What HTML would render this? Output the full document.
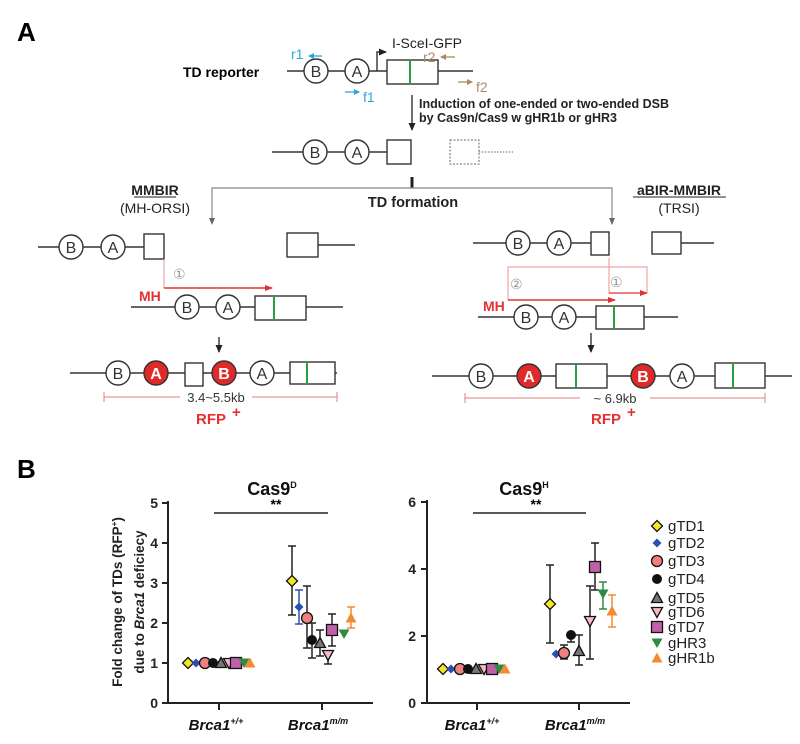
<!DOCTYPE html><html><head><meta charset="utf-8"><style>body{margin:0;background:#fff}svg{display:block}text{font-family:"Liberation Sans",sans-serif}</style></head><body>
<svg width="800" height="744" viewBox="0 0 800 744" xmlns="http://www.w3.org/2000/svg">
<defs>
<marker id="ah" markerWidth="8" markerHeight="8" refX="7" refY="4" orient="auto" markerUnits="userSpaceOnUse"><path d="M0,0.5 L8,4 L0,7.5z" fill="#222"/></marker>
<marker id="ahr" markerWidth="8" markerHeight="8" refX="7" refY="4" orient="auto" markerUnits="userSpaceOnUse"><path d="M0,1 L8,4 L0,7z" fill="#e53030"/></marker>
<marker id="ahb" markerWidth="6" markerHeight="6" refX="5" refY="3" orient="auto" markerUnits="userSpaceOnUse"><path d="M0,0 L6,3 L0,6z" fill="#29a8e0"/></marker>
<marker id="ahn" markerWidth="6" markerHeight="6" refX="5" refY="3" orient="auto" markerUnits="userSpaceOnUse"><path d="M0,0 L6,3 L0,6z" fill="#b08a60"/></marker>
<g id="dia"><path d="M0,-5.5 L5.5,0 L0,5.5 L-5.5,0z" fill="#f2e62a" stroke="#111" stroke-width="1.3"/></g>
<g id="bdia"><path d="M0,-4.5 L4.5,0 L0,4.5 L-4.5,0z" fill="#2b4fb0"/></g>
<g id="cir"><circle r="5.5" fill="#f07f7f" stroke="#111" stroke-width="1.3"/></g>
<g id="blk"><circle r="5" fill="#111"/></g>
<g id="tri"><path d="M0,-5.5 L5.5,4.5 L-5.5,4.5z" fill="#777" stroke="#111" stroke-width="1.3"/></g>
<g id="tdn"><path d="M0,5.5 L5.5,-4.5 L-5.5,-4.5z" fill="#f7b8c8" stroke="#111" stroke-width="1.3"/></g>
<g id="sq"><rect x="-5.5" y="-5.5" width="11" height="11" fill="#c060a8" stroke="#111" stroke-width="1.3"/></g>
<g id="gtd"><path d="M0,5 L5.5,-4.5 L-5.5,-4.5z" fill="#2e8b40"/></g>
<g id="otr"><path d="M0,-5.5 L5.5,4.5 L-5.5,4.5z" fill="#f58a30"/></g>
</defs>
<text x="17" y="41" font-size="26" font-weight="bold">A</text>
<text x="17" y="478" font-size="26" font-weight="bold">B</text>
<text x="183" y="77" font-size="14" font-weight="bold">TD reporter</text>
<g stroke="#333" stroke-width="1.4" fill="#fff">
<line x1="287" y1="71" x2="473" y2="71"/>
<circle cx="316" cy="71" r="12"/><circle cx="357" cy="71" r="12"/>
<rect x="387" y="60" width="51" height="24"/>
<polyline points="377,71 377,52 386,52" fill="none" marker-end="url(#ah)"/>
</g>
<line x1="410" y1="60" x2="410" y2="84" stroke="#2aa040" stroke-width="2"/>
<text x="316" y="77" font-size="16" text-anchor="middle" fill="#333">B</text><text x="357" y="77" font-size="16" text-anchor="middle" fill="#333">A</text>
<text x="392" y="48" font-size="14" fill="#222">I-SceI-GFP</text>
<text x="291" y="59" font-size="14" fill="#29a8e0">r1</text><line x1="322" y1="56" x2="309" y2="56" stroke="#29a8e0" stroke-width="1.3" marker-end="url(#ahb)"/>
<line x1="345" y1="92" x2="359" y2="92" stroke="#29a8e0" stroke-width="1.3" marker-end="url(#ahb)"/><text x="363" y="102" font-size="14" fill="#29a8e0">f1</text>
<text x="423" y="62" font-size="14" fill="#b08a60">r2</text><line x1="455" y1="57" x2="441" y2="57" stroke="#b08a60" stroke-width="1.3" marker-end="url(#ahn)"/>
<line x1="458" y1="82" x2="472" y2="82" stroke="#b08a60" stroke-width="1.3" marker-end="url(#ahn)"/><text x="476" y="92" font-size="14" fill="#b08a60">f2</text>
<line x1="412" y1="95" x2="412" y2="130" stroke="#222" stroke-width="1.3" marker-end="url(#ah)"/>
<text x="419" y="108" font-size="12.5" font-weight="bold" fill="#222">Induction of one-ended or two-ended DSB</text>
<text x="419" y="122" font-size="12.5" font-weight="bold" fill="#222">by Cas9n/Cas9 w gHR1b or gHR3</text>
<g stroke="#333" stroke-width="1.4" fill="#fff">
<line x1="272" y1="152" x2="387" y2="152"/>
<circle cx="315" cy="152" r="12"/><circle cx="357" cy="152" r="12"/>
<rect x="387" y="140" width="24" height="24"/>
</g>
<rect x="450" y="140" width="29" height="24" fill="none" stroke="#666" stroke-width="1" stroke-dasharray="2,1.5"/>
<line x1="479" y1="152" x2="513" y2="152" stroke="#666" stroke-width="1" stroke-dasharray="1.5,1.5"/>
<text x="315" y="158" font-size="16" text-anchor="middle" fill="#333">B</text><text x="357" y="158" font-size="16" text-anchor="middle" fill="#333">A</text>
<line x1="412" y1="177" x2="412" y2="188" stroke="#222" stroke-width="3"/>
<polyline points="212,222 212,188 612,188 612,224" fill="none" stroke="#888" stroke-width="1.2"/>
<path d="M209,218 L212,225 L215,218z M609,218 L612,225 L615,218z" fill="#666"/>
<text x="413" y="207" font-size="14.5" font-weight="bold" text-anchor="middle" fill="#222">TD formation</text>
<text x="155" y="195" font-size="14" font-weight="bold" text-anchor="middle" fill="#222">MMBIR</text>
<line x1="134" y1="197" x2="176" y2="197" stroke="#222" stroke-width="1"/>
<text x="155" y="213" font-size="14" text-anchor="middle" fill="#222">(MH-ORSI)</text>
<text x="679" y="195" font-size="14" font-weight="bold" text-anchor="middle" fill="#222">aBIR-MMBIR</text>
<line x1="633" y1="197" x2="726" y2="197" stroke="#222" stroke-width="1"/>
<text x="679" y="213" font-size="14" text-anchor="middle" fill="#222">(TRSI)</text>
<g stroke="#333" stroke-width="1.4" fill="#fff">
<line x1="38" y1="247" x2="144" y2="247"/>
<circle cx="71" cy="247" r="12"/><circle cx="113" cy="247" r="12"/>
<rect x="144" y="234" width="20" height="25"/>
<rect x="287" y="233" width="31" height="24"/><line x1="318" y1="245" x2="355" y2="245"/>
<line x1="131" y1="307" x2="343" y2="307"/>
<circle cx="187" cy="307" r="12"/><circle cx="228" cy="307" r="12"/>
<rect x="255" y="296" width="51" height="24"/>
<line x1="70" y1="373" x2="337" y2="373"/>
<circle cx="118" cy="373" r="12"/><circle cx="156" cy="373" r="12" fill="#e02a2a"/>
<rect x="185" y="363" width="18" height="23"/>
<circle cx="224" cy="373" r="12" fill="#e02a2a"/><circle cx="262" cy="373" r="12"/>
<rect x="290" y="362" width="45" height="22"/>
</g>
<line x1="274" y1="296" x2="274" y2="320" stroke="#2aa040" stroke-width="2"/>
<line x1="307" y1="362" x2="307" y2="384" stroke="#2aa040" stroke-width="2"/>
<g font-size="16" text-anchor="middle" fill="#333">
<text x="71" y="253">B</text><text x="113" y="253">A</text><text x="187" y="313">B</text><text x="228" y="313">A</text>
<text x="118" y="379">B</text><text x="156" y="379" fill="#fff" font-weight="bold">A</text><text x="224" y="379" fill="#fff" font-weight="bold">B</text><text x="262" y="379">A</text>
</g>
<polyline points="164,259 164,288 271,288" fill="none" stroke="#f09090" stroke-width="1"/>
<line x1="164" y1="288" x2="272" y2="288" stroke="#e53030" stroke-width="1.4" marker-end="url(#ahr)"/>
<text x="173" y="279" font-size="14" fill="#999">①</text>
<text x="139" y="301" font-size="14" font-weight="bold" fill="#e53030">MH</text>
<line x1="219" y1="337" x2="219" y2="352" stroke="#222" stroke-width="1.3" marker-end="url(#ah)"/>
<g stroke="#e08080" stroke-width="1"><line x1="104" y1="397" x2="180" y2="397"/><line x1="252" y1="397" x2="337" y2="397"/><line x1="104" y1="392" x2="104" y2="402"/><line x1="337" y1="392" x2="337" y2="402"/></g>
<text x="216" y="402" font-size="13" text-anchor="middle" fill="#333">3.4~5.5kb</text>
<text x="211" y="424" font-size="15" font-weight="bold" text-anchor="middle" fill="#e53030">RFP</text><text x="232" y="417" font-size="15" font-weight="bold" fill="#e53030">+</text>
<g stroke="#333" stroke-width="1.4" fill="#fff">
<line x1="473" y1="243" x2="591" y2="243"/>
<circle cx="518" cy="243" r="12"/><circle cx="559" cy="243" r="12"/>
<rect x="591" y="232" width="18" height="23"/>
<rect x="652" y="232" width="29" height="22"/><line x1="681" y1="243" x2="714" y2="243"/>
<line x1="478" y1="317" x2="678" y2="317"/>
<circle cx="526" cy="317" r="12"/><circle cx="564" cy="317" r="12"/>
<rect x="596" y="306" width="48" height="23"/>
<line x1="432" y1="376" x2="792" y2="376"/>
<circle cx="481" cy="376" r="12"/><circle cx="529" cy="376" r="12" fill="#e02a2a"/>
<rect x="556" y="364" width="51" height="24"/>
<circle cx="643" cy="376" r="12" fill="#e02a2a"/><circle cx="682" cy="376" r="12"/>
<rect x="715" y="363" width="50" height="25"/>
</g>
<line x1="614" y1="306" x2="614" y2="329" stroke="#2aa040" stroke-width="2"/>
<line x1="576" y1="364" x2="576" y2="388" stroke="#2aa040" stroke-width="2"/>
<line x1="733" y1="363" x2="733" y2="388" stroke="#2aa040" stroke-width="2"/>
<g font-size="16" text-anchor="middle" fill="#333">
<text x="518" y="249">B</text><text x="559" y="249">A</text><text x="526" y="323">B</text><text x="564" y="323">A</text>
<text x="481" y="382">B</text><text x="529" y="382" fill="#fff" font-weight="bold">A</text><text x="643" y="382" fill="#fff" font-weight="bold">B</text><text x="682" y="382">A</text>
</g>
<polyline points="508,300 508,267 647,267 647,293" fill="none" stroke="#f09090" stroke-width="1"/>
<polyline points="609,258 609,293 645,293" fill="none" stroke="#f09090" stroke-width="1"/>
<line x1="609" y1="293" x2="647" y2="293" stroke="#e53030" stroke-width="1.3" marker-end="url(#ahr)"/>
<line x1="508" y1="300" x2="615" y2="300" stroke="#e53030" stroke-width="1.4" marker-end="url(#ahr)"/>
<text x="510" y="289" font-size="14" fill="#999">②</text><text x="610" y="287" font-size="14" fill="#999">①</text>
<text x="483" y="311" font-size="14" font-weight="bold" fill="#e53030">MH</text>
<line x1="591" y1="333" x2="591" y2="352" stroke="#222" stroke-width="1.3" marker-end="url(#ah)"/>
<g stroke="#e08080" stroke-width="1"><line x1="465" y1="398" x2="580" y2="398"/><line x1="650" y1="398" x2="765" y2="398"/><line x1="465" y1="393" x2="465" y2="403"/><line x1="765" y1="393" x2="765" y2="403"/></g>
<text x="615" y="403" font-size="13" text-anchor="middle" fill="#333">~ 6.9kb</text>
<text x="606" y="424" font-size="15" font-weight="bold" text-anchor="middle" fill="#e53030">RFP</text><text x="627" y="417" font-size="15" font-weight="bold" fill="#e53030">+</text>
<text x="272" y="495" font-size="18" font-weight="bold" text-anchor="middle" fill="#111">Cas9<tspan font-size="9" dy="-7">D</tspan></text>
<text x="524" y="495" font-size="18" font-weight="bold" text-anchor="middle" fill="#111">Cas9<tspan font-size="9" dy="-7">H</tspan></text>
<g transform="translate(122,602) rotate(-90)"><text x="0" y="0" font-size="13.5" font-weight="bold" text-anchor="middle" fill="#222">Fold change of TDs (RFP<tspan font-size="8" dy="-5">+</tspan><tspan dy="5">)</tspan></text></g>
<g transform="translate(144,602) rotate(-90)"><text x="0" y="0" font-size="13.5" font-weight="bold" text-anchor="middle" fill="#222">due to <tspan font-style="italic">Brca1</tspan> deficiecy</text></g>
<g stroke="#222" stroke-width="2" fill="none">
<polyline points="168,501 168,703 373,703"/>
<line x1="162" y1="503" x2="168" y2="503"/><line x1="162" y1="543" x2="168" y2="543"/><line x1="162" y1="583" x2="168" y2="583"/><line x1="162" y1="623" x2="168" y2="623"/><line x1="162" y1="663" x2="168" y2="663"/><line x1="162" y1="703" x2="168" y2="703"/>
<line x1="219" y1="703" x2="219" y2="710"/><line x1="322" y1="703" x2="322" y2="710"/>
<line x1="214" y1="513" x2="328" y2="513" stroke-width="1.5"/>
</g>
<g font-size="14" font-weight="bold" text-anchor="end" fill="#222"><text x="158" y="508">5</text><text x="158" y="548">4</text><text x="158" y="588">3</text><text x="158" y="628">2</text><text x="158" y="668">1</text><text x="158" y="708">0</text></g>
<text x="276" y="509" font-size="14" font-weight="bold" text-anchor="middle">**</text>
<g font-size="15" font-weight="bold" font-style="italic" text-anchor="middle" fill="#111">
<text x="216" y="730">Brca1<tspan font-size="9" dy="-6">+/+</tspan></text>
<text x="318" y="730">Brca1<tspan font-size="9" dy="-6">m/m</tspan></text>
<text x="472" y="730">Brca1<tspan font-size="9" dy="-6">+/+</tspan></text>
<text x="575" y="730">Brca1<tspan font-size="9" dy="-6">m/m</tspan></text>
</g>
<g stroke="#222" stroke-width="1.5" fill="none">
<path d="M292,615 V546 M288,615h8 M288,546h8"/>
<path d="M307,648 V586 M303,648h8 M303,586h8"/>
<path d="M312,658 V623 M308,658h8 M308,623h8"/>
<path d="M320,656 V630 M316,656h8 M316,630h8"/>
<path d="M328,664 V652 M324,664h8 M324,652h8"/>
<path d="M332,646 V614 M328,646h8 M328,614h8"/>
</g>
<path d="M299,624 V590 M295,624h8 M295,590h8" stroke="#3050b0" stroke-width="1.5"/>
<path d="M351,628 V607 M347,628h8 M347,607h8" stroke="#f58a30" stroke-width="1.5"/>
<use href="#dia" x="292" y="581"/><use href="#bdia" x="299" y="607"/><use href="#cir" x="307" y="618"/><use href="#blk" x="312" y="640"/><use href="#tri" x="320" y="643"/><use href="#tdn" x="328" y="655"/><use href="#sq" x="332" y="630"/><use href="#gtd" x="344" y="634"/><use href="#otr" x="351" y="618"/>
<use href="#dia" x="188" y="663"/><use href="#bdia" x="196" y="663"/><use href="#cir" x="205" y="663"/><use href="#blk" x="213" y="663"/><use href="#tri" x="221" y="663"/><use href="#tdn" x="229" y="663"/><use href="#sq" x="236" y="663"/><use href="#gtd" x="244" y="663"/><use href="#otr" x="250" y="663"/>
<g stroke="#222" stroke-width="2" fill="none">
<polyline points="427,500 427,703 630,703"/>
<line x1="421" y1="502" x2="427" y2="502"/><line x1="421" y1="569" x2="427" y2="569"/><line x1="421" y1="636" x2="427" y2="636"/><line x1="421" y1="703" x2="427" y2="703"/>
<line x1="477" y1="703" x2="477" y2="710"/><line x1="579" y1="703" x2="579" y2="710"/>
<line x1="473" y1="513" x2="586" y2="513" stroke-width="1.5"/>
</g>
<g font-size="14" font-weight="bold" text-anchor="end" fill="#222"><text x="416" y="507">6</text><text x="416" y="574">4</text><text x="416" y="641">2</text><text x="416" y="708">0</text></g>
<text x="536" y="509" font-size="14" font-weight="bold" text-anchor="middle">**</text>
<g stroke="#222" stroke-width="1.5" fill="none">
<path d="M550,643 V565 M546,643h8 M546,565h8"/>
<path d="M564,659 V645 M560,659h8 M560,645h8"/>
<path d="M571,642 V635 M567,642h8 M567,635h8"/>
<path d="M579,665 V635 M575,665h8 M575,635h8"/>
<path d="M590,659 V586 M586,659h8 M586,586h8"/>
<path d="M595,590 V543 M591,590h8 M591,543h8"/>
</g>
<path d="M603,609 V582 M599,609h8 M599,582h8" stroke="#2e8b40" stroke-width="1.5"/>
<path d="M612,627 V595 M608,627h8 M608,595h8" stroke="#f58a30" stroke-width="1.5"/>
<use href="#dia" x="550" y="604"/><use href="#bdia" x="556" y="654"/><use href="#cir" x="564" y="653"/><use href="#blk" x="571" y="635"/><use href="#tri" x="579" y="651"/><use href="#tdn" x="590" y="621"/><use href="#sq" x="595" y="567"/><use href="#gtd" x="603" y="594"/><use href="#otr" x="612" y="611"/>
<use href="#dia" x="443" y="669"/><use href="#bdia" x="451" y="669"/><use href="#cir" x="460" y="669"/><use href="#blk" x="468" y="669"/><use href="#tri" x="476" y="669"/><use href="#tdn" x="484" y="669"/><use href="#sq" x="492" y="669"/><use href="#gtd" x="499" y="669"/><use href="#otr" x="505" y="669"/>
<use href="#dia" x="657" y="526"/><use href="#bdia" x="657" y="543"/><use href="#cir" x="657" y="561"/><use href="#blk" x="657" y="579"/><use href="#tri" x="657" y="598"/><use href="#tdn" x="657" y="612"/><use href="#sq" x="657" y="627"/><use href="#gtd" x="657" y="643"/><use href="#otr" x="657" y="658"/>
<g font-size="15" fill="#222">
<text x="668" y="531">gTD1</text><text x="668" y="548">gTD2</text><text x="668" y="566">gTD3</text><text x="668" y="584">gTD4</text><text x="668" y="603">gTD5</text><text x="668" y="617">gTD6</text><text x="668" y="632">gTD7</text><text x="668" y="648">gHR3</text><text x="668" y="663">gHR1b</text>
</g>
</svg>
</body></html>
